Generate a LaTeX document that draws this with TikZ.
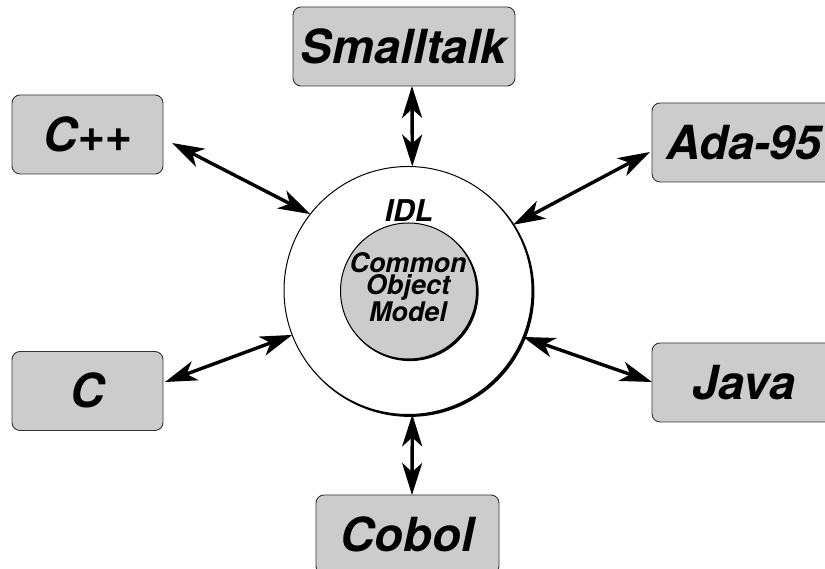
\documentclass[tikz,border=0pt]{standalone}
\usepackage{fontspec}
\setmainfont{TeX Gyre Heros}
\usetikzlibrary{arrows.meta}
\definecolor{boxgray}{HTML}{CCCCCC}
\definecolor{edgegray}{HTML}{333333}
\tikzset{
  langbox/.style={draw=edgegray, line width=0.9pt, fill=boxgray, rounded corners=8pt,
    minimum height=79pt, inner sep=0pt, outer sep=0pt,
    font=\fontsize{47}{47}\selectfont\bfseries\itshape, text height=33.5pt, text depth=0pt},
  link/.style={line width=3.4pt, {Stealth[length=32pt,width=20pt,inset=9pt]}-{Stealth[length=32pt,width=20pt,inset=9pt]}},
  ring/.style={circle, draw=black, line width=1pt, inner sep=0pt, outer sep=0pt},
}
\begin{document}
\begin{tikzpicture}[x=1pt,y=1pt]
\clip (0,0) rectangle (825,569);
\fill[white] (0,0) rectangle (825,569);
% outer ring with shadow
\fill[black] (409.8,276.7) circle (124.6);
\node[ring, fill=white, minimum size=248pt] (outer) at (408,278.5) {};
% inner circle with shadow
\fill[black] (410,276.5) circle (68.6);
\node[ring, fill=boxgray, minimum size=136pt] (inner) at (408.5,278) {};
\node[font=\fontsize{27}{22.5}\selectfont\bfseries\itshape, align=center, inner sep=0pt] (com) at (408,282) {Common\\Object\\Model};
\node[font=\fontsize{30}{30}\selectfont\bfseries\itshape, inner sep=0pt, text height=21.6pt, text depth=0pt] (idl) at (409,358.5) {IDL};
% language boxes
\node[langbox, minimum width=222pt] (st) at (404,522.5) {Smalltalk};
\node[langbox, minimum width=151pt] (cpp) at (87.5,434.5) {C++};
\node[langbox, minimum width=184pt] (ada) at (744,426.5) {Ada-95};
\node[langbox, minimum width=151pt] (c) at (87.5,178) {C};
\node[langbox, minimum width=184pt] (java) at (744,186.5) {Java};
\node[langbox, minimum width=183pt] (cobol) at (407.5,34.5) {Cobol};
% connectors
\draw[link] ([xshift=8pt]st.south) -- (outer.88);
\draw[link] ([shift={(9,-8.5)}]cpp.east) -- (outer.142.5);
\draw[link] ([shift={(-2,-9.5)}]ada.west) -- (outer.32);
\draw[link] ([shift={(2,9)}]c.east) -- (outer.201.5);
\draw[link] ([shift={(0,0.5)}]java.west) -- (outer.338.3);
\draw[link] ([xshift=4.5pt]cobol.north) -- (outer.272);
\end{tikzpicture}
\end{document}
